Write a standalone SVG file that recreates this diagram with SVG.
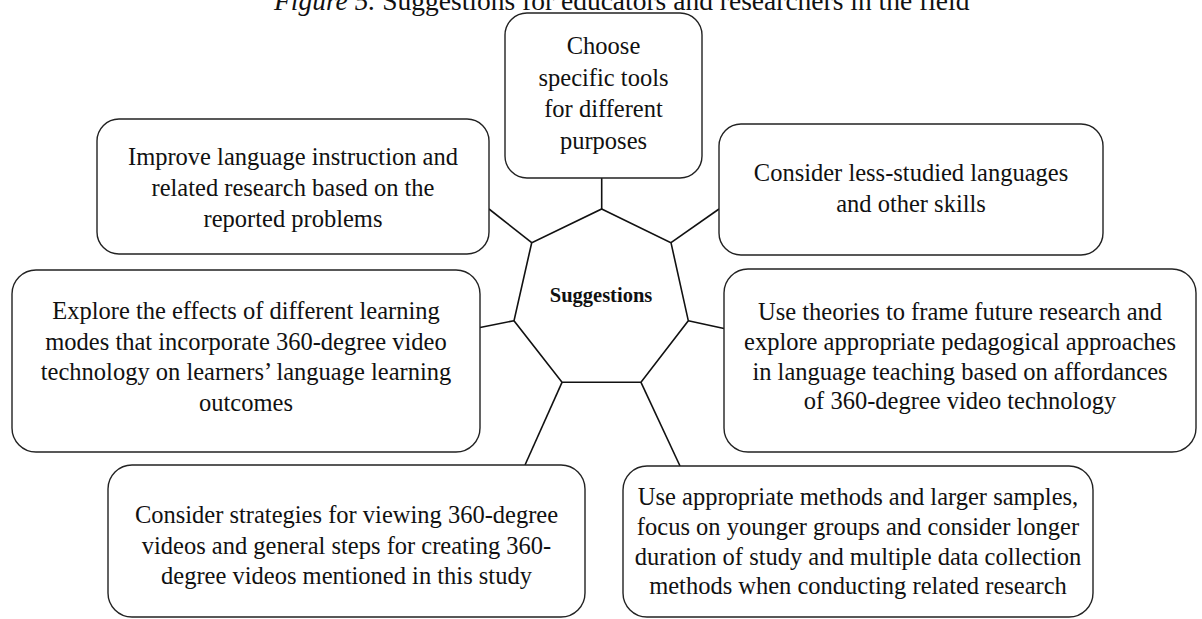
<svg xmlns="http://www.w3.org/2000/svg" width="1202" height="619" viewBox="0 0 1202 619">
<style>
.box{fill:#fff;stroke:#222;stroke-width:1.4}
.t{font-family:"Liberation Serif","Times New Roman",serif;font-size:24.5px;fill:#111;text-anchor:middle}
.title{font-family:"Liberation Serif","Times New Roman",serif;font-size:27.5px;fill:#111}
.c{stroke:#111;stroke-width:1.6;fill:none}
</style>
<rect width="1202" height="619" fill="#fff"/>
<text class="title" x="274" y="10"><tspan font-style="italic">Figure 5.</tspan> Suggestions for educators and researchers in the field</text>
<g id="connectors">
<line class="c" x1="601.7" y1="209" x2="601.7" y2="178"/>
<line class="c" x1="531.7" y1="242.7" x2="489" y2="209"/>
<line class="c" x1="671" y1="242.7" x2="719" y2="209"/>
<line class="c" x1="514" y1="320.7" x2="480" y2="327.5"/>
<line class="c" x1="688.3" y1="320.7" x2="724" y2="328.5"/>
<line class="c" x1="562" y1="382.3" x2="525" y2="465"/>
<line class="c" x1="641" y1="382.3" x2="680" y2="466"/>
</g>
<g id="center">
<polygon points="601.7,209 671,242.7 688.3,320.7 641,382.3 562,382.3 514,320.7 531.7,242.7" fill="#fff" stroke="#111" stroke-width="1.6"/>
<text x="601" y="302" font-family="Liberation Serif,Times New Roman,serif" font-size="20.5" font-weight="bold" text-anchor="middle" fill="#111">Suggestions</text>
</g>
<g id="n1">
<rect class="box" x="505" y="13" width="197" height="165" rx="22"/>
<text class="t" x="603.5"><tspan x="603.5" y="54">Choose</tspan><tspan x="603.5" y="86">specific tools</tspan><tspan x="603.5" y="117">for different</tspan><tspan x="603.5" y="149">purposes</tspan></text>
</g>
<g id="n2">
<rect class="box" x="97" y="119" width="392" height="135" rx="22"/>
<text class="t"><tspan x="293" y="165">Improve language instruction and</tspan><tspan x="293" y="196">related research based on the</tspan><tspan x="293" y="227">reported problems</tspan></text>
</g>
<g id="n3">
<rect class="box" x="719" y="124" width="384" height="131" rx="22"/>
<text class="t"><tspan x="911" y="181">Consider less-studied languages</tspan><tspan x="911" y="212">and other skills</tspan></text>
</g>
<g id="n4">
<rect class="box" x="12" y="270" width="468" height="182" rx="24"/>
<text class="t"><tspan x="246" y="319">Explore the effects of different learning</tspan><tspan x="246" y="349.5">modes that incorporate 360-degree video</tspan><tspan x="246" y="380">technology on learners’ language learning</tspan><tspan x="246" y="410.5">outcomes</tspan></text>
</g>
<g id="n5">
<rect class="box" x="724" y="269" width="472" height="183" rx="24"/>
<text class="t"><tspan x="960" y="320">Use theories to frame future research and</tspan><tspan x="960" y="350">explore appropriate pedagogical approaches</tspan><tspan x="960" y="379.5">in language teaching based on affordances</tspan><tspan x="960" y="409">of 360-degree video technology</tspan></text>
</g>
<g id="n6">
<rect class="box" x="108" y="465" width="477" height="152" rx="24"/>
<text class="t"><tspan x="346.5" y="523">Consider strategies for viewing 360-degree</tspan><tspan x="346.5" y="553.5">videos and general steps for creating 360-</tspan><tspan x="346.5" y="584">degree videos mentioned in this study</tspan></text>
</g>
<g id="n7">
<rect class="box" x="623" y="466" width="470" height="151" rx="24"/>
<text class="t"><tspan x="858" y="505">Use appropriate methods and larger samples,</tspan><tspan x="858" y="535">focus on younger groups and consider longer</tspan><tspan x="858" y="564.5">duration of study and multiple data collection</tspan><tspan x="858" y="594">methods when conducting related research</tspan></text>
</g>
</svg>
